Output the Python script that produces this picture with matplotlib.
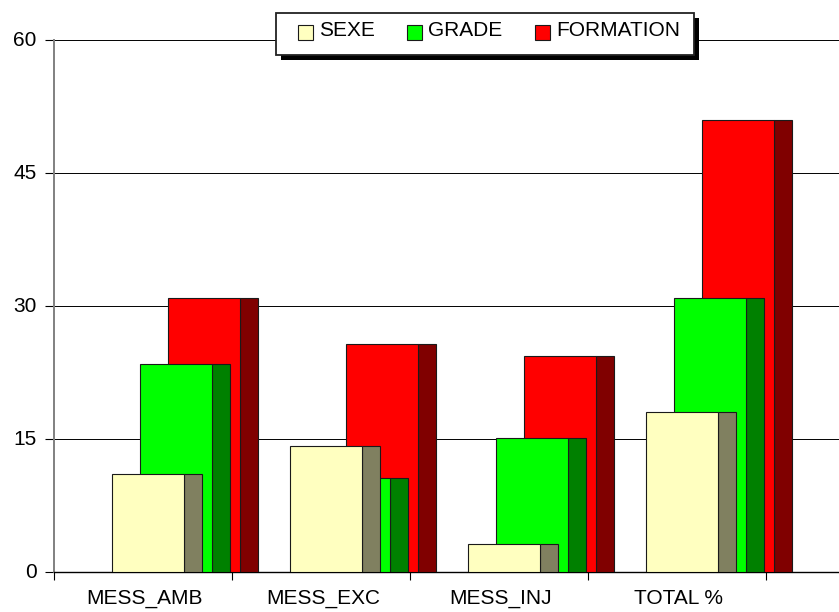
import matplotlib
matplotlib.use('Agg')
import matplotlib.pyplot as plt
from matplotlib.patches import Rectangle
from matplotlib.transforms import ScaledTranslation
import numpy as np

plt.rcParams['font.family'] = ['Liberation Sans', 'DejaVu Sans']

categories = ['MESS_AMB', 'MESS_EXC', 'MESS_INJ', 'TOTAL %']
sexe = [11.05, 14.2, 3.2, 18.0]
grade = [23.5, 10.6, 15.1, 30.9]
formation = [30.9, 25.7, 24.4, 51.0]
yticks = [0, 15, 30, 45, 60]

W, H = 839, 612
fig = plt.figure(figsize=(W / 100, H / 100), dpi=100)
ax = fig.add_axes([54 / W, (H - 572) / H, (W - 54) / W, 532 / H])

x = np.arange(len(categories))
bar_w = 72 / 178
side_w = 18 / 178

#back to front, each bar has a darker side face
series = [(formation, 168, '#FF0000', '#800000', 'FORMATION'),
          (grade, 140, '#00FF00', '#008000', 'GRADE'),
          (sexe, 112, '#FFFFC0', '#808060', 'SEXE')]
handles = {}
for i, (vals, left_px, col, dark, name) in enumerate(series):
    off = (left_px - 54) / 178
    z = 3 + i
    ax.bar(x + off + bar_w, vals, side_w, align='edge', color=dark,
           edgecolor='#1a1a1a', linewidth=0.8, zorder=z)
    handles[name] = ax.bar(x + off, vals, bar_w, align='edge', color=col,
                           edgecolor='#1a1a1a', linewidth=0.8, zorder=z, label=name)

ax.set_xlim(0, (W - 54) / 178)
ax.set_ylim(0, 60)
ax.set_yticks(yticks)
ax.set_xticks(np.arange(len(categories) + 1))
ax.set_xticklabels([])
ax.set_xticks(x + 0.5, categories, minor=True)
ax.tick_params(axis='x', which='major', length=6, width=0.8, color='black')
ax.tick_params(axis='x', which='minor', length=0, pad=12.5, labelsize=15)
ax.tick_params(axis='y', length=6.5, width=0.8, pad=6, labelsize=15, color='black')
ax.grid(axis='y', color='black', linewidth=0.7, zorder=1)
ax.set_axisbelow(True)

#tick numbers sit a little above their gridline, category names a little right
lift = ScaledTranslation(0, 1.5 / 100, fig.dpi_scale_trans)
for lab in ax.get_yticklabels():
    lab.set_transform(lab.get_transform() + lift)
nudge = ScaledTranslation(2 / 100, 0, fig.dpi_scale_trans)
for lab in ax.get_xticklabels(minor=True):
    lab.set_transform(lab.get_transform() + nudge)

ax.spines['top'].set_visible(False)
ax.spines['right'].set_visible(False)
ax.spines['left'].set_color('#808080')
ax.spines['left'].set_linewidth(1.4)
ax.spines['bottom'].set_color('black')
ax.spines['bottom'].set_linewidth(1.0)

#legend box and its shadow, the contents are off centre in it
ax.add_patch(Rectangle((281 / W, 1 - 60 / H), 418 / W, 42 / H, transform=fig.transFigure,
                       facecolor='black', edgecolor='none', clip_on=False, zorder=8))
ax.add_patch(Rectangle((276 / W, 1 - 55 / H), 418 / W, 42 / H, transform=fig.transFigure,
                       facecolor='white', edgecolor='#222222', linewidth=1.3,
                       clip_on=False, zorder=9))

leg = ax.legend([handles['SEXE'], handles['GRADE'], handles['FORMATION']],
                ['SEXE', 'GRADE', 'FORMATION'], ncol=3, loc='center',
                bbox_to_anchor=((489 - 54) / (W - 54), 1 + 6 / 532),
                fontsize=15, frameon=False, borderpad=0.5, borderaxespad=0,
                handlelength=0.72, handleheight=0.72,
                handletextpad=0.3, columnspacing=1.55)
leg.set_zorder(10)
for t in leg.get_texts():
    t.set_y(3)

fig.savefig('out.png', dpi=100)
